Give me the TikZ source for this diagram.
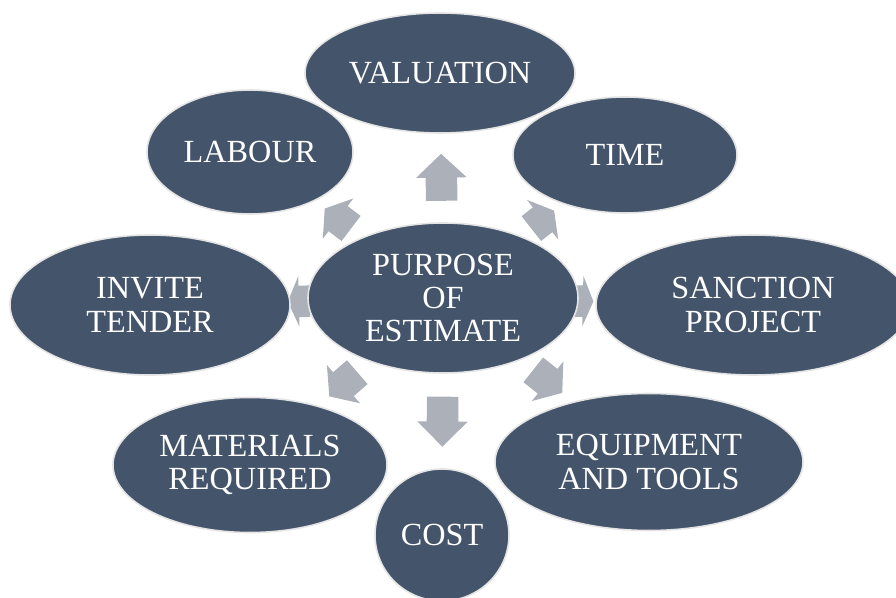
\documentclass[tikz,border=0pt]{standalone}
\usepackage{fontspec}
\setmainfont{Liberation Serif}
\usetikzlibrary{shapes.geometric,shapes.arrows,backgrounds}

\definecolor{slate}{RGB}{68,84,106}
\definecolor{rim}{RGB}{228,228,228}
\definecolor{pointer}{RGB}{172,176,184}

\tikzset{every picture/.style={line width=0.75pt}}
\tikzset{
  bubble/.style 2 args={ellipse, draw=rim, line width=1.2pt, fill=slate, text=white,
    inner sep=0pt, align=center, font=\fontsize{24.2}{25}\selectfont,
    minimum width=#1*0.75pt, minimum height=#2*0.75pt},
  flow/.style 2 args={single arrow, fill=pointer, draw=none, inner xsep=0pt, inner ysep=11.625pt,
    text height=0pt, text depth=0pt, single arrow head extend=7.125pt, minimum width=0pt,
    minimum height=#1*0.75pt, single arrow tip angle=#2, anchor=tail}
}

\begin{document}
\begin{tikzpicture}[x=0.75pt,y=0.75pt,yscale=-1,xscale=1]
\useasboundingbox (0,0) rectangle (896,598);

%Centre ellipse
\node [bubble={270}{150}] (cen) at (443,298) {PURPOSE\\OF\\ESTIMATE};
%Outer ellipses, clockwise from the top
\node [bubble={270}{120}] (val) at (440,73) {VALUATION};
\node [bubble={224}{116}] (time) at (625,155) {TIME};
\node [bubble={314}{140}] (sanc) at (753,305) {SANCTION\\PROJECT};
\node [bubble={308}{137}] (equip) at (649,462) {EQUIPMENT\\AND TOOLS};
\node [bubble={134}{132}] (cost) at (442,535) {COST};
\node [bubble={274}{135}] (mat) at (250,465) {MATERIALS\\REQUIRED};
\node [bubble={280}{140}] (inv) at (150,305) {INVITE\\TENDER};
\node [bubble={206}{124}] (lab) at (250,152) {LABOUR};

%Block arrows behind the ellipses: name/length/tail position/angle
\begin{pgfonlayer}{background}
\foreach \n/\len/\p/\ang in {val/47/0.239/90.8, time/29/0.231/38.2, sanc/21/-0.39/-1.3,
    equip/37/0.232/-38.5, cost/50/0.24/-90.2, mat/37/0.234/-139.1, inv/22/-0.16/181.4,
    lab/33/0.233/142.9}{
  \pgfmathsetmacro\tipang{2*atan(50/\len)}
  \path (cen) -- (\n) node [flow={\len}{\tipang}, pos=\p, rotate=\ang] (ar-\n) {};
}
\end{pgfonlayer}

\end{tikzpicture}
\end{document}
